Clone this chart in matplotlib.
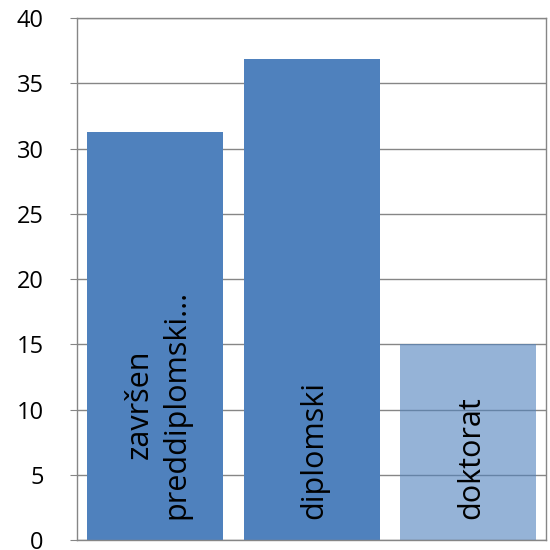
import matplotlib
matplotlib.use("Agg")
import matplotlib.pyplot as plt

categories = ["završen\npreddiplomski...", "diplomski", "doktorat"]
values = [31.3, 36.9, 15.0]
alphas = [1.0, 1.0, 0.6]
yticks = [0, 5, 10, 15, 20, 25, 30, 35, 40]

plt.rcParams["font.family"] = ["Open Sans", "DejaVu Sans"]

fig = plt.figure(figsize=(5.5, 5.5), dpi=100)
ax = fig.add_axes([0.14, 0.018, 0.853, 0.949])

x = range(len(categories))
bars = ax.bar(x, values, width=0.87, color="#4F81BD", zorder=2)
for b, a in zip(bars, alphas):
    b.set_alpha(a)

for xi, lab in zip(x, categories):
    ax.text(xi + 0.02, 1.6, lab, rotation=90, ha="center", va="bottom",
            fontsize=22, color="black", zorder=3, multialignment="center",
            linespacing=1.3)

ax.set_xlim(-0.5, len(categories) - 0.5)
ax.set_ylim(0, 40)
ax.set_yticks(yticks)
ax.set_xticks([])
ax.yaxis.grid(True, color="#868686", linewidth=1, zorder=1)
ax.set_axisbelow(True)
ax.tick_params(axis="y", length=5, color="#868686", labelsize=17, pad=19)
for lab in ax.get_yticklabels():
    lab.set_horizontalalignment("right")
for s in ax.spines.values():
    s.set_color("#868686")
    s.set_linewidth(1)

fig.savefig("out.png", dpi=100, facecolor="white")
